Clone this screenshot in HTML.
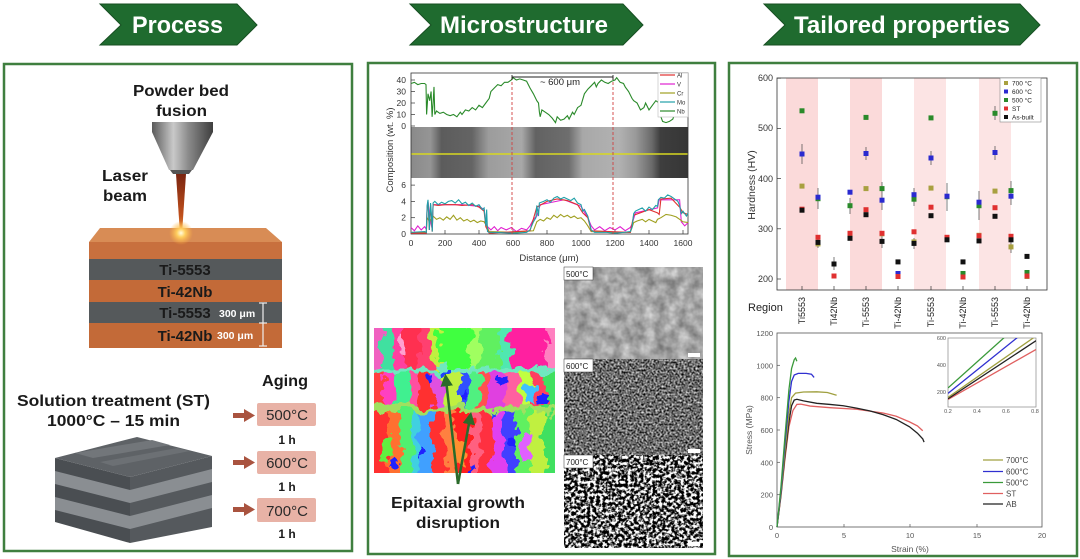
<!DOCTYPE html>
<html><head><meta charset="utf-8"><style>
html,body{margin:0;padding:0;background:#fff;width:1080px;height:559px;overflow:hidden}
svg{position:absolute;left:0;top:0}
text{font-family:"Liberation Sans",sans-serif}
</style></head><body>
<svg width="1080" height="559" viewBox="0 0 1080 559" xmlns="http://www.w3.org/2000/svg">
<defs>
<linearGradient id="noz" x1="0" x2="1" y1="0" y2="0"><stop offset="0" stop-color="#5a5a5a"/><stop offset="0.35" stop-color="#c9c9c9"/><stop offset="0.6" stop-color="#8a8a8a"/><stop offset="1" stop-color="#3e3e3e"/></linearGradient>
<linearGradient id="beam" x1="0" x2="0" y1="0" y2="1"><stop offset="0" stop-color="#7a2410"/><stop offset="0.7" stop-color="#c0501c"/><stop offset="1" stop-color="#f0a040"/></linearGradient>
<radialGradient id="glow"><stop offset="0" stop-color="#fffbe0"/><stop offset="0.35" stop-color="#ffd060"/><stop offset="1" stop-color="#ffb040" stop-opacity="0"/></radialGradient>
<linearGradient id="strip" x1="0" x2="1" y1="0" y2="0">
<stop offset="0" stop-color="#8a8a8a"/><stop offset="0.07" stop-color="#959595"/><stop offset="0.11" stop-color="#5c5c5c"/><stop offset="0.22" stop-color="#646464"/><stop offset="0.28" stop-color="#9c9c9c"/><stop offset="0.4" stop-color="#a8a8a8"/><stop offset="0.45" stop-color="#626262"/><stop offset="0.57" stop-color="#6e6e6e"/><stop offset="0.62" stop-color="#a8a8a8"/><stop offset="0.75" stop-color="#b2b2b2"/><stop offset="0.81" stop-color="#9a9a9a"/><stop offset="0.87" stop-color="#6a6a6a"/><stop offset="0.9" stop-color="#3e3e3e"/><stop offset="1" stop-color="#363636"/></linearGradient>
<filter id="f500" x="0" y="0" width="100%" height="100%" color-interpolation-filters="sRGB"><feTurbulence type="fractalNoise" baseFrequency="0.09" numOctaves="3" seed="3"/><feColorMatrix type="matrix" values="0.5 0 0 0 0.4  0.5 0 0 0 0.4  0.5 0 0 0 0.4  0 0 0 0 1"/></filter>
<filter id="f600" x="0" y="0" width="100%" height="100%" color-interpolation-filters="sRGB"><feTurbulence type="fractalNoise" baseFrequency="0.5" numOctaves="2" seed="7"/><feColorMatrix type="matrix" values="1.5 0 0 0 -0.33  1.5 0 0 0 -0.33  1.5 0 0 0 -0.33  0 0 0 0 1"/></filter>
<filter id="f700" x="0" y="0" width="100%" height="100%" color-interpolation-filters="sRGB"><feTurbulence type="fractalNoise" baseFrequency="0.32" numOctaves="2" seed="11"/><feColorMatrix type="matrix" values="4.5 0 0 0 -1.85  4.5 0 0 0 -1.85  4.5 0 0 0 -1.85  0 0 0 0 1"/></filter>
<filter id="disp" filterUnits="userSpaceOnUse" x="355" y="310" width="220" height="180" color-interpolation-filters="sRGB"><feTurbulence type="fractalNoise" baseFrequency="0.07" numOctaves="3" seed="5" result="t"/><feDisplacementMap in="SourceGraphic" in2="t" scale="20" xChannelSelector="R" yChannelSelector="G"/></filter>
<clipPath id="ebsd"><rect x="374" y="328" width="181" height="145"/></clipPath>
<clipPath id="inset"><rect x="948" y="338" width="88" height="69"/></clipPath>
<marker id="ah" viewBox="0 0 10 10" refX="5" refY="5" markerWidth="5" markerHeight="5" orient="auto"><path d="M0,0 L10,5 L0,10 z" fill="#2a6a2a"/></marker>
</defs>

<!-- headers -->
<g fill="#1f6b2f" stroke="#174f22" stroke-width="1">
<polygon points="100,4 237,4 257,25 237,45 100,45 121,25"/>
<polygon points="410,4 623,4 643,25 623,45 410,45 431,25"/>
<polygon points="764,4 1020,4 1040,25 1020,45 764,45 785,25"/>
</g>
<g fill="#fff" font-weight="bold" font-size="24">
<text x="132" y="33" textLength="91" lengthAdjust="spacingAndGlyphs">Process</text>
<text x="440" y="33" textLength="168" lengthAdjust="spacingAndGlyphs">Microstructure</text>
<text x="794" y="33" textLength="216" lengthAdjust="spacingAndGlyphs">Tailored properties</text>
</g>

<!-- panels -->
<g fill="none" stroke="#3f7f3f" stroke-width="2.5">
<rect x="4" y="64" width="348" height="487"/>
<rect x="368" y="63" width="347" height="491"/>
<rect x="729" y="63" width="348" height="493"/>
</g>

<!-- PROCESS -->
<g font-weight="bold" fill="#1a1a1a" font-size="16">
<text x="133" y="96" textLength="96" lengthAdjust="spacingAndGlyphs">Powder bed</text>
<text x="156" y="116" textLength="51" lengthAdjust="spacingAndGlyphs">fusion</text>
<text x="102" y="181" textLength="46" lengthAdjust="spacingAndGlyphs">Laser</text>
<text x="103" y="201" textLength="44" lengthAdjust="spacingAndGlyphs">beam</text>
</g>
<rect x="152" y="122" width="61" height="10" fill="url(#noz)"/>
<polygon points="152,132 213,132 193,170 169,170" fill="url(#noz)"/>
<polygon points="170,170 192,170 189,174 173,174" fill="#555"/>
<polygon points="176,174 186,174 182,234 180,234" fill="url(#beam)"/>
<!-- block -->
<polygon points="100,228 266,228 282,242 89,242" fill="#d88c55"/>
<rect x="89" y="242" width="193" height="17" fill="#c8703e"/>
<rect x="89" y="259" width="193" height="21" fill="#55595b"/>
<rect x="89" y="280" width="193" height="22" fill="#c36a38"/>
<rect x="89" y="302" width="193" height="21" fill="#55595b"/>
<rect x="89" y="323" width="193" height="25" fill="#c36a38"/>
<circle cx="181" cy="233" r="12" fill="url(#glow)"/>
<g font-weight="bold" fill="#1a1a1a" font-size="15" text-anchor="middle">
<text x="185" y="275">Ti-5553</text>
<text x="185" y="297">Ti-42Nb</text>
<text x="185" y="318">Ti-5553</text>
<text x="185" y="341">Ti-42Nb</text>
</g>
<g font-weight="bold" fill="#fff" font-size="10.5">
<text x="219" y="317">300 μm</text>
<text x="217" y="339">300 μm</text>
</g>
<g stroke="#eee" stroke-width="1.2">
<line x1="263" y1="303" x2="263" y2="346"/><line x1="259" y1="303" x2="267" y2="303"/><line x1="259" y1="323" x2="267" y2="323"/><line x1="259" y1="346" x2="267" y2="346"/>
</g>
<g font-weight="bold" fill="#1a1a1a" font-size="16">
<text x="17" y="406" textLength="193" lengthAdjust="spacingAndGlyphs">Solution treatment (ST)</text>
<text x="47" y="426" textLength="133" lengthAdjust="spacingAndGlyphs">1000°C – 15 min</text>
<text x="262" y="386" textLength="46" lengthAdjust="spacingAndGlyphs">Aging</text>
</g>
<!-- gray layered block -->
<polygon points="55,458 130,477 130,543 55,522" fill="#4a4e52"/>
<polygon points="130,477 212,456 212,527 130,543" fill="#55595d"/>
<g fill="#8a8e92">
<polygon points="55,471 130,490 130,503 55,484"/>
<polygon points="55,497 130,516 130,529 55,510"/>
<polygon points="130,490 212,469 212,482 130,503"/>
<polygon points="130,516 212,495 212,508 130,529"/>
</g>
<polygon points="55,458 137,437 212,456 130,477" fill="#5e6266"/>
<polygon points="75,453 152,440 170,445 93,458" fill="#72767a"/>
<polygon points="100,462 177,448 190,451 113,466" fill="#6c7074"/>
<!-- aging -->
<g fill="#a9533f">
<rect x="233" y="413" width="12" height="5"/><polygon points="244,409 255,415.5 244,422"/>
<rect x="233" y="460" width="12" height="5"/><polygon points="244,456 255,462.5 244,469"/>
<rect x="233" y="507" width="12" height="5"/><polygon points="244,503 255,509.5 244,516"/>
</g>
<g fill="#e8b2a6">
<rect x="257" y="403" width="59" height="23" rx="2"/>
<rect x="257" y="451" width="59" height="23" rx="2"/>
<rect x="257" y="498" width="59" height="24" rx="2"/>
</g>
<g fill="#2a2a2a" font-size="15" text-anchor="middle">
<text x="287" y="420">500°C</text><text x="287" y="468">600°C</text><text x="287" y="516">700°C</text>
</g>
<g fill="#1a1a1a" font-size="12" font-weight="bold" text-anchor="middle">
<text x="287" y="444">1 h</text><text x="287" y="491">1 h</text><text x="287" y="538">1 h</text>
</g>

<!-- MICROSTRUCTURE chart -->
<rect x="411" y="127" width="277" height="51" fill="url(#strip)"/>
<line x1="411" y1="154" x2="688" y2="154" stroke="#d8d820" stroke-width="1.5"/>
<rect x="411" y="73" width="277" height="161" fill="none" stroke="#333" stroke-width="0.8"/>
<g stroke="#333" stroke-width="0.7">
<line x1="411" y1="126" x2="415" y2="126"/><line x1="411" y1="114.5" x2="415" y2="114.5"/><line x1="411" y1="103" x2="415" y2="103"/><line x1="411" y1="91.5" x2="415" y2="91.5"/><line x1="411" y1="80" x2="415" y2="80"/>
<line x1="411" y1="217.7" x2="415" y2="217.7"/><line x1="411" y1="201.4" x2="415" y2="201.4"/><line x1="411" y1="185.1" x2="415" y2="185.1"/>
<line x1="445" y1="234" x2="445" y2="230"/><line x1="479" y1="234" x2="479" y2="230"/><line x1="513" y1="234" x2="513" y2="230"/><line x1="547" y1="234" x2="547" y2="230"/><line x1="581" y1="234" x2="581" y2="230"/><line x1="615" y1="234" x2="615" y2="230"/><line x1="649" y1="234" x2="649" y2="230"/><line x1="683" y1="234" x2="683" y2="230"/>
</g>
<g font-size="8.5" fill="#333" text-anchor="end">
<text x="406" y="129">0</text><text x="406" y="117.5">10</text><text x="406" y="106">20</text><text x="406" y="94.5">30</text><text x="406" y="83">40</text>
<text x="406" y="237">0</text><text x="406" y="220.7">2</text><text x="406" y="204.4">4</text><text x="406" y="188.1">6</text>
</g>
<g font-size="8.5" fill="#333" text-anchor="middle">
<text x="411" y="246">0</text><text x="445" y="246">200</text><text x="479" y="246">400</text><text x="513" y="246">600</text><text x="547" y="246">800</text><text x="581" y="246">1000</text><text x="615" y="246">1200</text><text x="649" y="246">1400</text><text x="683" y="246">1600</text>
<text x="549" y="261" font-size="9.5">Distance (μm)</text>
<text transform="translate(393,150) rotate(-90)" font-size="9.5">Composition (wt. %)</text>
</g>
<!-- Nb curve -->
<polyline fill="none" stroke="#2a8a2a" stroke-width="1.1" points="411,83.5 414.4,82.3 417.8,84.6 421.2,83.5 424.6,83.5 426,84.6 426.6,114.5 428,93.8 429.7,100.7 431.1,91.5 432.1,116.8 433.1,103 434,86.9 434.8,114.5 436.5,111 439.9,113.4 443.3,112.2 446.7,114.5 450.1,115.7 453.5,114.5 456.9,116.8 460.3,112.2 462,114.5 465.4,109.9 468.8,111 472.2,107.6 475.6,109.9 479,105.3 482.4,107.6 485.8,103 489.2,98.4 490.9,91.5 494.3,88 497.7,84.6 501.1,85.8 504.5,82.3 507.9,82.3 511.3,80 513,77.7 516.4,80 519.8,78.9 523.2,80 526.6,81.2 530,88 533.4,93.8 536.8,100.7 538.5,103 539.4,112.2 540.2,116.8 541.9,109.9 545.3,112.2 548.7,114.5 552.1,118 555.5,122.6 557.2,116.8 560.6,120.3 564,119.1 567.4,115.7 569.1,119.1 572.5,112.2 574.2,114.5 577.6,107.6 581,105.3 584.4,93.8 587.8,89.2 591.2,85.8 594.6,82.3 596.3,86.9 598,83.5 601.4,80 604.8,82.3 608.2,83.5 611.6,81.2 615,80 616.7,77.7 620.1,82.3 623.5,83.5 625.2,86.9 628.6,91.5 632,98.4 633.7,100.7 637.1,103 640.5,109.9 643.9,107.6 645.6,103 649,109.9 652.4,105.3 655.8,100.7 659.2,103 660.9,116.8 662.6,121.4 666,122.6 669.4,121.4 672.8,119.1 674.5,114.5"/>
<!-- bottom curves in data coords -->
<g transform="translate(411,234) scale(0.17,-8.15)" fill="none" stroke-width="1.1">
<polyline vector-effect="non-scaling-stroke" stroke="#e020d0" points="0,0.8 20,0.4 40,1.0 60,0.5 80,0.9 90,0.6 95,3.3 100,4.0 110,2.0 125,0.6 130,3.6 200,3.6 300,3.6 400,3.4 430,3.0 440,1.4 450,0.9 470,0.5 490,0.9 510,0.4 530,0.8 560,0.5 590,0.8 620,0.3 650,0.7 680,0.5 700,1.0 720,1.8 740,2.2 760,3.6 900,4.2 1000,3.4 1040,2.0 1060,1.0 1080,0.5 1110,0.9 1140,0.4 1170,0.8 1200,0.5 1230,0.9 1260,0.4 1290,0.8 1300,1.2 1320,2.6 1450,3.2 1460,4.2 1580,4.2 1590,1.5 1610,1.0 1630,1.4"/>
<polyline vector-effect="non-scaling-stroke" stroke="#a0a020" points="0,0.2 90,0.2 95,2.0 110,1.5 130,2.2 150,1.8 170,2.0 190,1.7 210,2.1 230,1.8 250,2.3 270,1.7 290,2.0 310,1.6 330,1.8 350,1.5 370,1.7 390,1.4 410,1.6 430,1.5 445,1.0 460,0.3 600,0.2 720,0.4 740,1.5 760,1.8 780,1.6 800,2.0 820,1.8 840,2.3 860,2.0 880,2.4 900,2.1 920,2.3 940,2.0 960,2.2 980,1.9 1000,2.0 1020,1.6 1040,1.0 1060,0.3 1290,0.2 1310,1.4 1330,1.6 1360,1.8 1380,1.5 1400,1.8 1420,1.6 1440,1.4 1450,1.8 1470,2.0 1500,2.4 1530,2.3 1560,2.1 1580,1.8 1600,1.5 1630,1.4"/>
<polyline vector-effect="non-scaling-stroke" stroke="#e03030" points="0,0.1 90,0.1 95,3.2 100,3.9 108,0.5 115,3.6 125,0.3 130,3.6 160,3.5 200,3.6 260,3.6 300,3.5 360,3.6 400,3.3 430,2.8 440,0.9 460,0.1 700,0.4 740,3.3 800,4.0 860,4.3 920,4.1 980,3.6 1010,2.6 1040,2.0 1060,0.4 1290,0.2 1310,2.3 1400,3.0 1450,2.6 1460,2.4 1470,4.3 1530,4.4 1580,3.3 1600,2.6 1630,2.4"/>
<polyline vector-effect="non-scaling-stroke" stroke="#20a0a8" points="0,0.2 80,0.3 90,0.2 95,3.5 100,4.2 108,0.5 115,3.8 120,2.5 125,0.3 130,3.8 140,4.0 160,3.6 180,3.9 200,3.7 220,4.0 240,4.1 260,3.8 280,4.2 300,3.7 320,3.9 340,3.5 360,3.8 380,3.4 400,3.6 420,3.0 430,3.2 440,1.0 445,3.0 450,0.3 460,0.2 500,0.2 600,0.1 680,0.2 700,0.5 720,1.5 735,2.0 740,3.5 750,2.2 755,3.8 780,4.0 800,4.2 820,3.9 840,4.4 860,4.6 880,4.3 900,4.5 920,4.3 940,4.1 960,4.4 980,3.8 1000,3.6 1010,2.8 1020,3.0 1040,2.2 1060,0.5 1080,0.2 1150,0.2 1200,0.1 1250,0.2 1290,0.3 1300,0.8 1310,2.5 1320,2.8 1340,3.0 1360,3.2 1380,2.8 1400,3.3 1420,3.0 1440,3.5 1450,3.4 1455,4.2 1470,4.5 1490,4.4 1510,4.8 1530,4.6 1550,4.3 1570,4.0 1580,3.5 1590,2.5 1600,2.8 1620,2.2 1630,2.6"/>
</g>
<g stroke="#d04040" stroke-width="0.9" stroke-dasharray="3,2">
<line x1="512" y1="77" x2="512" y2="234"/><line x1="613" y1="77" x2="613" y2="234"/>
</g>
<g stroke="#222" stroke-width="0.9"><line x1="512" y1="77" x2="613" y2="77"/><line x1="512" y1="75" x2="512" y2="80"/><line x1="613" y1="75" x2="613" y2="80"/></g>
<text x="560" y="85" font-size="9.5" fill="#222" text-anchor="middle">~ 600 μm</text>
<rect x="658" y="73" width="30" height="44" fill="#fff" stroke="#bbb" stroke-width="0.6"/>
<g stroke-width="1.2">
<line x1="660" y1="75" x2="675" y2="75" stroke="#e03030"/><line x1="660" y1="84" x2="675" y2="84" stroke="#e020d0"/><line x1="660" y1="93" x2="675" y2="93" stroke="#a0a020"/><line x1="660" y1="102" x2="675" y2="102" stroke="#20a0a8"/><line x1="660" y1="111" x2="675" y2="111" stroke="#2a8a2a"/>
</g>
<g font-size="6" fill="#333"><text x="677" y="77.5">Al</text><text x="677" y="86.5">V</text><text x="677" y="95.5">Cr</text><text x="677" y="104.5">Mo</text><text x="677" y="113.5">Nb</text></g>

<!-- SEM images -->
<rect x="564" y="267" width="139" height="92" filter="url(#f500)"/>
<rect x="564" y="359" width="139" height="96" filter="url(#f600)"/>
<rect x="564" y="455" width="139" height="93" filter="url(#f700)"/>
<g fill="#fff" stroke="#333" stroke-width="0.5">
<rect x="564" y="267" width="29" height="13"/><rect x="564" y="359" width="29" height="13"/><rect x="564" y="455" width="29" height="13"/>
</g>
<g font-size="8" fill="#222"><text x="566" y="277">500°C</text><text x="566" y="369">600°C</text><text x="566" y="465">700°C</text></g>
<g fill="#fff"><rect x="688" y="353" width="12" height="4"/><rect x="688" y="449" width="12" height="4"/><rect x="688" y="542" width="12" height="4"/></g>

<!-- EBSD -->
<g clip-path="url(#ebsd)"><g filter="url(#disp)">
<rect x="360" y="315" width="230" height="180" fill="#60e080"/>
<rect x="360" y="315" width="22" height="57" fill="#f060c0"/><rect x="382" y="315" width="10" height="57" fill="#40e0a0"/><rect x="392" y="315" width="13" height="57" fill="#ff40a0"/><rect x="405" y="315" width="13" height="57" fill="#ff3050"/><rect x="418" y="315" width="14" height="57" fill="#ff4070"/><rect x="432" y="315" width="8" height="57" fill="#c0f040"/><rect x="440" y="315" width="30" height="57" fill="#40ff40"/><rect x="470" y="315" width="8" height="57" fill="#a0ff60"/><rect x="478" y="315" width="22" height="57" fill="#60f060"/><rect x="500" y="315" width="10" height="57" fill="#50e8b0"/><rect x="510" y="315" width="35" height="57" fill="#ff20a0"/><rect x="545" y="315" width="30" height="57" fill="#ff80c0"/>
<rect x="360" y="372" width="24" height="40" fill="#ff4040"/><rect x="384" y="372" width="11" height="40" fill="#ff40c0"/><rect x="395" y="372" width="13" height="40" fill="#40f090"/><rect x="408" y="372" width="12" height="40" fill="#ff50a0"/><rect x="420" y="372" width="12" height="40" fill="#ff3030"/><rect x="432" y="372" width="13" height="40" fill="#e050e0"/><rect x="445" y="372" width="15" height="40" fill="#c0f040"/><rect x="460" y="372" width="8" height="40" fill="#3050ff"/><rect x="468" y="372" width="12" height="40" fill="#50f080"/><rect x="480" y="372" width="10" height="40" fill="#ff5050"/><rect x="490" y="372" width="15" height="40" fill="#e040e0"/><rect x="505" y="372" width="15" height="40" fill="#ff60a0"/><rect x="520" y="372" width="10" height="40" fill="#c0ff40"/><rect x="530" y="372" width="15" height="40" fill="#ff4060"/><rect x="545" y="372" width="30" height="40" fill="#40e060"/>
<rect x="360" y="412" width="28" height="80" fill="#ff3030"/><rect x="388" y="412" width="12" height="80" fill="#ff7030"/><rect x="400" y="412" width="12" height="80" fill="#50f070"/><rect x="412" y="412" width="8" height="80" fill="#40d0e0"/><rect x="420" y="412" width="12" height="80" fill="#40a0ff"/><rect x="432" y="412" width="13" height="80" fill="#ff3030"/><rect x="445" y="412" width="10" height="80" fill="#ff8040"/><rect x="455" y="412" width="15" height="80" fill="#ff2020"/><rect x="470" y="412" width="10" height="80" fill="#ff6080"/><rect x="480" y="412" width="12" height="80" fill="#ff3040"/><rect x="492" y="412" width="13" height="80" fill="#e040f0"/><rect x="505" y="412" width="10" height="80" fill="#4040ff"/><rect x="515" y="412" width="15" height="80" fill="#60f060"/><rect x="530" y="412" width="15" height="80" fill="#c0f040"/><rect x="545" y="412" width="30" height="80" fill="#40e060"/>
<rect x="360" y="368" width="230" height="5" fill="#70e8c0"/><rect x="360" y="407" width="230" height="5" fill="#a0e060"/>
<rect x="380" y="438" width="14" height="20" fill="#60f040"/><rect x="455" y="440" width="10" height="25" fill="#ff9030"/><rect x="520" y="430" width="12" height="30" fill="#e060ff"/><rect x="398" y="335" width="8" height="20" fill="#ffa0d0"/><rect x="525" y="385" width="10" height="18" fill="#40c0ff"/>
<rect x="460" y="395" width="6" height="8" fill="#2020ff"/><rect x="430" y="376" width="5" height="5" fill="#2020ff"/><rect x="500" y="380" width="6" height="6" fill="#2020ff"/><rect x="508" y="440" width="8" height="10" fill="#2020ff"/><rect x="420" y="452" width="6" height="8" fill="#2020ff"/><rect x="390" y="462" width="8" height="6" fill="#2020ff"/><rect x="470" y="466" width="6" height="6" fill="#2020ff"/><rect x="540" y="398" width="5" height="6" fill="#2020ff"/><rect x="445" y="368" width="6" height="5" fill="#2040ff"/><rect x="490" y="410" width="7" height="5" fill="#2040ff"/>
</g></g>
<g stroke="#2a6a2a" stroke-width="2.5" marker-end="url(#ah)">
<line x1="458" y1="484" x2="446" y2="380"/><line x1="458" y1="484" x2="470" y2="418"/>
</g>
<g font-weight="bold" fill="#1a1a1a" font-size="16">
<text x="391" y="508" textLength="134" lengthAdjust="spacingAndGlyphs">Epitaxial growth</text>
<text x="416" y="528" textLength="84" lengthAdjust="spacingAndGlyphs">disruption</text>
</g>

<!-- HARDNESS chart -->
<g fill="#fbdada"><rect x="786" y="78" width="32" height="212"/><rect x="850" y="78" width="32" height="212"/></g>
<g fill="#fce4e4"><rect x="914" y="78" width="32" height="212"/><rect x="979" y="78" width="32" height="212"/></g>
<rect x="777" y="78" width="270" height="212" fill="none" stroke="#333" stroke-width="0.8"/>
<g stroke="#333" stroke-width="0.7">
<line x1="777" y1="279" x2="781" y2="279"/><line x1="777" y1="228.8" x2="781" y2="228.8"/><line x1="777" y1="178.6" x2="781" y2="178.6"/><line x1="777" y1="128.4" x2="781" y2="128.4"/><line x1="777" y1="78.2" x2="781" y2="78.2"/>
<line x1="802" y1="290" x2="802" y2="286"/><line x1="834" y1="290" x2="834" y2="286"/><line x1="866" y1="290" x2="866" y2="286"/><line x1="898" y1="290" x2="898" y2="286"/><line x1="931" y1="290" x2="931" y2="286"/><line x1="963" y1="290" x2="963" y2="286"/><line x1="995" y1="290" x2="995" y2="286"/><line x1="1027" y1="290" x2="1027" y2="286"/>
</g>
<g font-size="9" fill="#333" text-anchor="end">
<text x="773" y="282">200</text><text x="773" y="232">300</text><text x="773" y="182">400</text><text x="773" y="131">500</text><text x="773" y="81">600</text>
</g>
<text transform="translate(755,185) rotate(-90)" font-size="10.5" fill="#333" text-anchor="middle">Hardness (HV)</text>
<text x="748" y="311" font-size="11" fill="#222">Region</text>
<g font-size="9" fill="#222" text-anchor="end">
<text transform="translate(805,297) rotate(-90)">Ti5553</text>
<text transform="translate(837,297) rotate(-90)">Ti42Nb</text>
<text transform="translate(869,297) rotate(-90)">Ti-5553</text>
<text transform="translate(901,297) rotate(-90)">Ti-42Nb</text>
<text transform="translate(934,297) rotate(-90)">Ti-5553</text>
<text transform="translate(966,297) rotate(-90)">Ti-42Nb</text>
<text transform="translate(998,297) rotate(-90)">Ti-5553</text>
<text transform="translate(1030,297) rotate(-90)">Ti-42Nb</text>
</g>
<!-- error bars -->
<g stroke="#444" stroke-width="0.7">
<line x1="802" y1="144" x2="802" y2="164"/><line x1="818" y1="188" x2="818" y2="209"/><line x1="834" y1="257" x2="834" y2="270"/><line x1="850" y1="198" x2="850" y2="214"/><line x1="866" y1="147" x2="866" y2="160"/><line x1="882" y1="182" x2="882" y2="210"/><line x1="914" y1="188" x2="914" y2="206"/><line x1="931" y1="151" x2="931" y2="165"/><line x1="947" y1="183" x2="947" y2="211"/><line x1="979" y1="191" x2="979" y2="220"/><line x1="995" y1="106" x2="995" y2="120"/><line x1="995" y1="146" x2="995" y2="160"/><line x1="1011" y1="181" x2="1011" y2="205"/><line x1="1011" y1="241" x2="1011" y2="253"/><line x1="818" y1="238" x2="818" y2="248"/><line x1="882" y1="236" x2="882" y2="248"/><line x1="914" y1="238" x2="914" y2="249"/>
</g>
<!-- olive 700 -->
<g fill="#a8a040">
<rect x="799.5" y="183.6" width="5" height="5"/><rect x="815.5" y="241.4" width="5" height="5"/><rect x="831.5" y="273.5" width="5" height="5"/><rect x="847.5" y="231.3" width="5" height="5"/><rect x="863.5" y="186.1" width="5" height="5"/><rect x="879.5" y="231.3" width="5" height="5"/><rect x="895.5" y="274" width="5" height="5"/><rect x="911.5" y="239.4" width="5" height="5"/><rect x="928.5" y="185.6" width="5" height="5"/><rect x="944.5" y="236.3" width="5" height="5"/><rect x="976.5" y="232.8" width="5" height="5"/><rect x="992.5" y="188.6" width="5" height="5"/><rect x="1008.5" y="244.4" width="5" height="5"/><rect x="1024.5" y="274" width="5" height="5"/>
</g>
<!-- green 500 -->
<g fill="#2a8a2a">
<rect x="799.5" y="108.3" width="5" height="5"/><rect x="815.5" y="196.2" width="5" height="5"/><rect x="847.5" y="203.2" width="5" height="5"/><rect x="863.5" y="114.9" width="5" height="5"/><rect x="879.5" y="186.1" width="5" height="5"/><rect x="911.5" y="196.7" width="5" height="5"/><rect x="928.5" y="115.4" width="5" height="5"/><rect x="944.5" y="194.2" width="5" height="5"/><rect x="960.5" y="271" width="5" height="5"/><rect x="976.5" y="203.2" width="5" height="5"/><rect x="992.5" y="110.8" width="5" height="5"/><rect x="1008.5" y="188.1" width="5" height="5"/><rect x="1024.5" y="270" width="5" height="5"/>
</g>
<!-- blue 600 -->
<g fill="#2a2ad0">
<rect x="799.5" y="151.5" width="5" height="5"/><rect x="815.5" y="194.7" width="5" height="5"/><rect x="831.5" y="261.5" width="5" height="5"/><rect x="847.5" y="189.7" width="5" height="5"/><rect x="863.5" y="151" width="5" height="5"/><rect x="879.5" y="197.7" width="5" height="5"/><rect x="895.5" y="271" width="5" height="5"/><rect x="911.5" y="192.2" width="5" height="5"/><rect x="928.5" y="155.5" width="5" height="5"/><rect x="944.5" y="193.7" width="5" height="5"/><rect x="976.5" y="199.7" width="5" height="5"/><rect x="992.5" y="150" width="5" height="5"/><rect x="1008.5" y="193.7" width="5" height="5"/>
</g>
<!-- red ST -->
<g fill="#e03030">
<rect x="799.5" y="206.7" width="5" height="5"/><rect x="815.5" y="234.8" width="5" height="5"/><rect x="831.5" y="273.5" width="5" height="5"/><rect x="847.5" y="230.8" width="5" height="5"/><rect x="863.5" y="207.2" width="5" height="5"/><rect x="879.5" y="230.8" width="5" height="5"/><rect x="895.5" y="274" width="5" height="5"/><rect x="911.5" y="229.3" width="5" height="5"/><rect x="928.5" y="204.7" width="5" height="5"/><rect x="944.5" y="234.8" width="5" height="5"/><rect x="960.5" y="274.5" width="5" height="5"/><rect x="976.5" y="233.3" width="5" height="5"/><rect x="992.5" y="205.2" width="5" height="5"/><rect x="1008.5" y="233.8" width="5" height="5"/><rect x="1024.5" y="273.5" width="5" height="5"/>
</g>
<!-- black -->
<g fill="#111">
<rect x="799.5" y="207.7" width="5" height="5"/><rect x="815.5" y="239.9" width="5" height="5"/><rect x="831.5" y="261.5" width="5" height="5"/><rect x="847.5" y="235.8" width="5" height="5"/><rect x="863.5" y="212.2" width="5" height="5"/><rect x="879.5" y="238.9" width="5" height="5"/><rect x="895.5" y="259.4" width="5" height="5"/><rect x="911.5" y="240.9" width="5" height="5"/><rect x="928.5" y="213.2" width="5" height="5"/><rect x="944.5" y="237.3" width="5" height="5"/><rect x="960.5" y="259.4" width="5" height="5"/><rect x="976.5" y="238.4" width="5" height="5"/><rect x="992.5" y="213.8" width="5" height="5"/><rect x="1008.5" y="237.3" width="5" height="5"/><rect x="1024.5" y="253.9" width="5" height="5"/>
</g>
<rect x="1000" y="78" width="41" height="44" fill="#fff" stroke="#888" stroke-width="0.6"/>
<rect x="1004" y="81" width="4" height="4" fill="#a8a040"/><rect x="1004" y="89.5" width="4" height="4" fill="#2a2ad0"/><rect x="1004" y="98" width="4" height="4" fill="#2a8a2a"/><rect x="1004" y="106.5" width="4" height="4" fill="#e03030"/><rect x="1004" y="115" width="4" height="4" fill="#111"/>
<g font-size="6.5" fill="#222"><text x="1012" y="85.5">700 °C</text><text x="1012" y="94">600 °C</text><text x="1012" y="102.5">500 °C</text><text x="1012" y="111">ST</text><text x="1012" y="119.5">As-built</text></g>

<!-- STRESS chart -->
<rect x="777" y="333" width="265" height="194" fill="none" stroke="#555" stroke-width="0.8"/>
<g stroke="#555" stroke-width="0.7">
<line x1="777" y1="494.7" x2="780" y2="494.7"/><line x1="777" y1="462.3" x2="780" y2="462.3"/><line x1="777" y1="430" x2="780" y2="430"/><line x1="777" y1="397.7" x2="780" y2="397.7"/><line x1="777" y1="365.3" x2="780" y2="365.3"/>
<line x1="844" y1="527" x2="844" y2="524"/><line x1="910" y1="527" x2="910" y2="524"/><line x1="977" y1="527" x2="977" y2="524"/>
</g>
<g font-size="7.5" fill="#555" text-anchor="end">
<text x="773" y="530">0</text><text x="773" y="497.7">200</text><text x="773" y="465.3">400</text><text x="773" y="433">600</text><text x="773" y="400.7">800</text><text x="773" y="368.3">1000</text><text x="773" y="336">1200</text>
</g>
<g font-size="7.5" fill="#555" text-anchor="middle">
<text x="777" y="538">0</text><text x="844" y="538">5</text><text x="910" y="538">10</text><text x="977" y="538">15</text><text x="1042" y="538">20</text>
<text x="910" y="552" font-size="8.5">Strain (%)</text>
<text transform="translate(752,430) rotate(-90)" font-size="8.5">Stress (MPa)</text>
</g>
<g transform="translate(777,527) scale(13.25,-0.1617)" fill="none" stroke-width="1.3">
<path vector-effect="non-scaling-stroke" stroke="#e06060" d="M0,0 L0.3,190 L0.6,420 L0.9,620 L1.2,720 L1.5,758 L1.8,760 L2.5,748 L4,738 L6,728 L8,705 L9,685 L10,650 L10.6,625 L11,595"/>
<path vector-effect="non-scaling-stroke" stroke="#222" d="M0,0 L0.3,200 L0.6,440 L0.9,650 L1.1,750 L1.3,785 L1.5,790 L2,780 L3,765 L4,758 L5,750 L6,735 L7,718 L8,695 L9,665 L10,620 L10.6,580 L11,545 L11.1,525"/>
<path vector-effect="non-scaling-stroke" stroke="#a0a040" d="M0,0 L0.3,210 L0.6,470 L0.9,700 L1.1,800 L1.4,828 L2,835 L3,836 L3.8,832 L4.5,815"/>
<path vector-effect="non-scaling-stroke" stroke="#3030d0" d="M0,0 L0.3,230 L0.6,520 L0.9,780 L1.1,900 L1.3,940 L1.6,950 L2.2,950 L2.6,945 L2.8,925"/>
<path vector-effect="non-scaling-stroke" stroke="#3a9a3a" d="M0,0 L0.3,250 L0.6,560 L0.9,850 L1.1,980 L1.3,1035 L1.4,1045 L1.5,1025"/>
</g>
<!-- inset -->
<rect x="948" y="338" width="88" height="69" fill="#fff" stroke="#888" stroke-width="0.7"/>
<g clip-path="url(#inset)"><g transform="translate(918.7,419) scale(146.7,-0.135)" fill="none" stroke-width="1.3">
<line vector-effect="non-scaling-stroke" stroke="#e06060" x1="0.2" y1="145" x2="0.8" y2="515"/>
<line vector-effect="non-scaling-stroke" stroke="#222" x1="0.2" y1="150" x2="0.8" y2="580"/>
<line vector-effect="non-scaling-stroke" stroke="#a0a040" x1="0.2" y1="160" x2="0.8" y2="615"/>
<line vector-effect="non-scaling-stroke" stroke="#3030d0" x1="0.2" y1="190" x2="0.8" y2="715"/>
<line vector-effect="non-scaling-stroke" stroke="#3a9a3a" x1="0.2" y1="230" x2="0.8" y2="815"/>
</g></g>
<g font-size="5.5" fill="#555" text-anchor="end"><text x="946" y="340">600</text><text x="946" y="367">400</text><text x="946" y="394">200</text></g>
<g font-size="5.5" fill="#555" text-anchor="middle"><text x="948" y="413">0.2</text><text x="977" y="413">0.4</text><text x="1006" y="413">0.6</text><text x="1035" y="413">0.8</text></g>
<g stroke-width="1.3">
<line x1="983" y1="460" x2="1003" y2="460" stroke="#a0a040"/><line x1="983" y1="471.5" x2="1003" y2="471.5" stroke="#3030d0"/><line x1="983" y1="482.5" x2="1003" y2="482.5" stroke="#3a9a3a"/><line x1="983" y1="493.5" x2="1003" y2="493.5" stroke="#e06060"/><line x1="983" y1="504" x2="1003" y2="504" stroke="#222"/>
</g>
<g font-size="8" fill="#444"><text x="1006" y="463">700°C</text><text x="1006" y="474.5">600°C</text><text x="1006" y="485.5">500°C</text><text x="1006" y="496.5">ST</text><text x="1006" y="507">AB</text></g>
</svg>
</body></html>
